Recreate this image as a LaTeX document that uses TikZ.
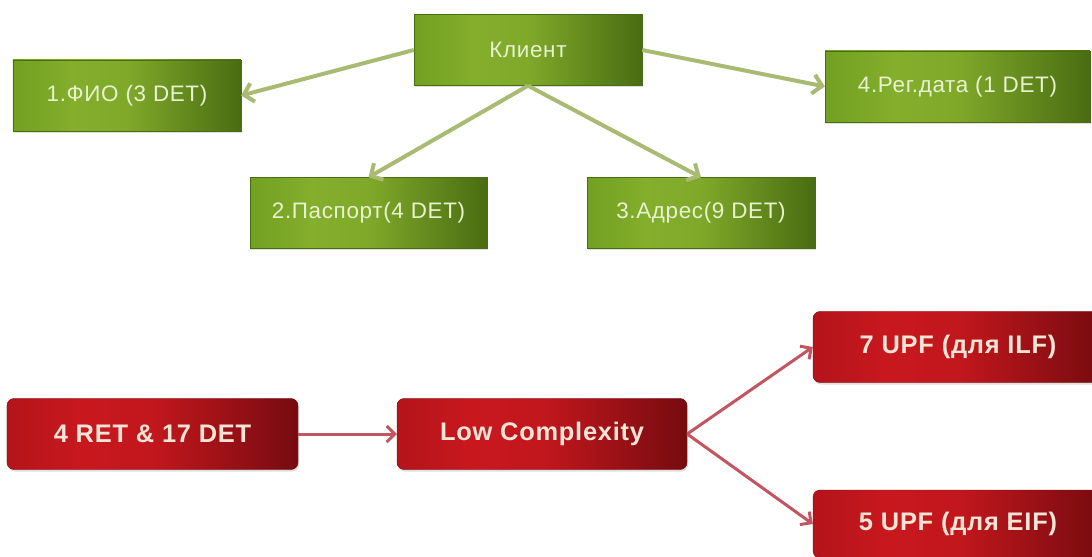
\documentclass[tikz,border=0pt]{standalone}
\usepackage{fontspec}
\setmainfont[LetterSpace=3]{Liberation Sans}
\usetikzlibrary{arrows.meta,shadows}

\definecolor{gmid}{HTML}{84AE2C}
\definecolor{gleft}{HTML}{72A021}
\definecolor{gright}{HTML}{4A6C12}
\definecolor{gline}{HTML}{A9BB72}
\definecolor{gtext}{HTML}{E8F2D0}
\definecolor{rmid}{HTML}{C8181E}
\definecolor{rleft}{HTML}{B3141A}
\definecolor{rright}{HTML}{760B10}
\definecolor{rline}{HTML}{C25560}
\definecolor{rtext}{HTML}{F6E4D6}

% the box spans 25bp..75bp of the shading
\pgfdeclarehorizontalshading{gshade}{100bp}{color(0bp)=(gleft); color(25bp)=(gleft);
    color(38bp)=(gmid); color(50bp)=(gmid!92!gright); color(75bp)=(gright); color(100bp)=(gright)}
\pgfdeclarehorizontalshading{rshade}{100bp}{color(0bp)=(rleft); color(25bp)=(rleft);
    color(38bp)=(rmid); color(50bp)=(rmid!92!rright); color(75bp)=(rright); color(100bp)=(rright)}

\tikzset{
    gbox/.style={draw=gright, thin, shading=gshade,
        minimum height=71bp, text=gtext, font=\fontsize{22.5}{26}\selectfont,
        drop shadow={opacity=0.25, shadow xshift=1bp, shadow yshift=-2bp}},
    rbox/.style={draw=rright, thin, rounded corners=7bp, shading=rshade,
        minimum height=71bp, text=rtext,
        font=\fontsize{25.5}{30}\selectfont\bfseries,
        drop shadow={opacity=0.25, shadow xshift=1bp, shadow yshift=-2bp}},
    garrow/.style={draw=gline, line width=4bp, -{Straight Barb[length=9bp, width=19bp]}},
    rarrow/.style={draw=rline, line width=3bp, -{Straight Barb[length=8bp, width=16bp]}}
}
\newcommand{\gn}{\node[gbox]}
\newcommand{\rn}{\node[rbox]}

\begin{document}
\begin{tikzpicture}[x=1bp, y=-1bp]
    \useasboundingbox (0,0) rectangle (1092,557);
    \clip (0,0) rectangle (1092,557);

    % entity and its fields
    \gn[minimum width=228bp] (klient) at (528, 50) {Клиент};
    \gn[minimum width=228bp] (fio) at (127, 95.5) {1.ФИО (3 DET)};
    \gn[minimum width=237bp] (pasport) at (368.5, 213) {2.Паспорт(4 DET)};
    \gn[minimum width=228bp] (adres) at (701, 213) {3.Адрес(9 DET)};
    \gn[minimum width=265bp] (regdata) at (957.5, 86.5) {4.Рег.дата (1 DET)};

    % result chain
    \rn[minimum width=291bp] (ret) at (152.5, 434) {4 RET \& 17 DET};
    \rn[minimum width=290bp] (low) at (542, 434) {Low Complexity};
    \rn[minimum width=290bp] (upfilf) at (958, 347) {7 UPF (для ILF)};
    \rn[minimum width=290bp, minimum height=68bp] (upfeif) at (958, 524) {5 UPF (для EIF)};

    \foreach \a/\b in {klient.west/fio.east, klient.south/pasport.north,
                       klient.south/adres.north, klient.east/regdata.west}
        \draw[garrow] (\a) -- (\b);

    \foreach \a/\b in {ret.east/low.west, low.east/upfilf.west, low.east/upfeif.west}
        \draw[rarrow] (\a) -- (\b);
\end{tikzpicture}
\end{document}
